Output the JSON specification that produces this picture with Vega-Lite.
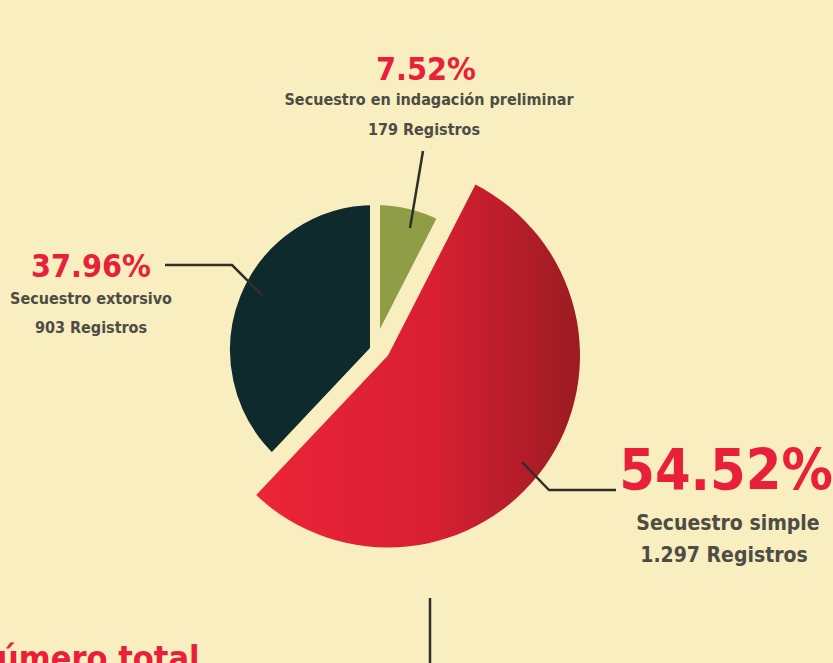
{
  "$schema": "https://vega.github.io/schema/vega-lite/v6.json",
  "width": 833,
  "height": 663,
  "padding": 0,
  "autosize": {"type": "none"},
  "background": "#f8eebf",
  "config": {"view": {"stroke": null}},
  "datasets": {
    "slices": [
      {"tipo": "Secuestro en indagación preliminar", "registros": 179, "orden": 1},
      {"tipo": "Secuestro simple", "registros": 1297, "orden": 2},
      {"tipo": "Secuestro extorsivo", "registros": 903, "orden": 3}
    ],
    "labels": [
      {"texto": "7.52%", "x": 426, "y": 80, "clase": "pct"},
      {"texto": "37.96%", "x": 91, "y": 277, "clase": "pct"},
      {"texto": "54.52%", "x": 726, "y": 490, "clase": "pctGrande"},
      {"texto": "Secuestro en indagación preliminar", "x": 429, "y": 105, "clase": "desc"},
      {"texto": "179 Registros", "x": 424, "y": 135, "clase": "desc"},
      {"texto": "Secuestro extorsivo", "x": 91, "y": 304, "clase": "desc"},
      {"texto": "903 Registros", "x": 91, "y": 333, "clase": "desc"},
      {"texto": "Secuestro simple", "x": 728, "y": 530, "clase": "descGrande"},
      {"texto": "1.297 Registros", "x": 724, "y": 562, "clase": "descGrande"},
      {"texto": "úmero total", "x": -3, "y": 670, "clase": "titulo"}
    ],
    "lines": [
      {"id": "a", "seq": 1, "x": 423, "y": 151},
      {"id": "a", "seq": 2, "x": 410, "y": 228},
      {"id": "b", "seq": 1, "x": 165, "y": 265},
      {"id": "b", "seq": 2, "x": 232, "y": 265},
      {"id": "b", "seq": 3, "x": 263, "y": 296},
      {"id": "c", "seq": 1, "x": 522, "y": 462},
      {"id": "c", "seq": 2, "x": 549, "y": 490},
      {"id": "c", "seq": 3, "x": 616, "y": 490},
      {"id": "d", "seq": 1, "x": 430, "y": 598},
      {"id": "d", "seq": 2, "x": 430, "y": 670}
    ]
  },
  "layer": [
    {
      "data": {"name": "slices"},
      "mark": {"type": "arc", "outerRadius": 150, "stroke": "#f8eebf", "strokeWidth": 10, "xOffset": -41.5, "yOffset": 18.5},
      "encoding": {
        "theta": {"field": "registros", "type": "quantitative", "stack": true},
        "order": {"field": "orden", "type": "quantitative"},
        "color": {
          "field": "tipo", "type": "nominal", "legend": null,
          "scale": {"domain": ["Secuestro en indagación preliminar", "Secuestro simple", "Secuestro extorsivo"], "range": ["#8e9d46", "transparent", "#0e2a2d"]}
        }
      }
    },
    {
      "data": {"name": "slices"},
      "mark": {
        "type": "arc", "outerRadius": 192, "xOffset": -28.5, "yOffset": 24,
        "fill": {"gradient": "linear", "x1": 0, "y1": 0.5, "x2": 1, "y2": 0.5,
          "stops": [{"offset": 0, "color": "#ec2439"}, {"offset": 0.55, "color": "#d81f33"}, {"offset": 1, "color": "#9b1c22"}]}
      },
      "encoding": {
        "theta": {"field": "registros", "type": "quantitative", "stack": true},
        "order": {"field": "orden", "type": "quantitative"},
        "opacity": {"condition": {"test": "datum.tipo === 'Secuestro simple'", "value": 1}, "value": 0}
      }
    },
    {
      "data": {"name": "lines"},
      "mark": {"type": "line", "color": "#302f2a", "strokeWidth": 2.5, "clip": true},
      "encoding": {
        "x": {"field": "x", "type": "quantitative", "axis": null, "scale": {"domain": [0, 833], "nice": false, "zero": false}},
        "y": {"field": "y", "type": "quantitative", "axis": null, "scale": {"domain": [0, 663], "nice": false, "zero": false, "reverse": true}},
        "detail": {"field": "id"},
        "order": {"field": "seq", "type": "quantitative"}
      }
    },
    {
      "data": {"name": "labels"},
      "transform": [{"filter": "datum.clase === 'pct'"}],
      "mark": {"type": "text", "font": "DejaVu Sans Condensed", "fontWeight": "bold", "fontSize": 32, "color": "#e8203a", "align": "center", "baseline": "alphabetic"},
      "encoding": {
        "x": {"field": "x", "type": "quantitative", "axis": null, "scale": {"domain": [0, 833], "nice": false, "zero": false}},
        "y": {"field": "y", "type": "quantitative", "axis": null, "scale": {"domain": [0, 663], "nice": false, "zero": false, "reverse": true}},
        "text": {"field": "texto"}
      }
    },
    {
      "data": {"name": "labels"},
      "transform": [{"filter": "datum.clase === 'pctGrande'"}],
      "mark": {"type": "text", "font": "DejaVu Sans Condensed", "fontWeight": "bold", "fontSize": 57, "color": "#e8203a", "align": "center", "baseline": "alphabetic"},
      "encoding": {
        "x": {"field": "x", "type": "quantitative", "axis": null, "scale": {"domain": [0, 833], "nice": false, "zero": false}},
        "y": {"field": "y", "type": "quantitative", "axis": null, "scale": {"domain": [0, 663], "nice": false, "zero": false, "reverse": true}},
        "text": {"field": "texto"}
      }
    },
    {
      "data": {"name": "labels"},
      "transform": [{"filter": "datum.clase === 'desc'"}],
      "mark": {"type": "text", "font": "DejaVu Sans Condensed", "fontWeight": "bold", "fontSize": 16, "color": "#4d4c45", "align": "center", "baseline": "alphabetic"},
      "encoding": {
        "x": {"field": "x", "type": "quantitative", "axis": null, "scale": {"domain": [0, 833], "nice": false, "zero": false}},
        "y": {"field": "y", "type": "quantitative", "axis": null, "scale": {"domain": [0, 663], "nice": false, "zero": false, "reverse": true}},
        "text": {"field": "texto"}
      }
    },
    {
      "data": {"name": "labels"},
      "transform": [{"filter": "datum.clase === 'descGrande'"}],
      "mark": {"type": "text", "font": "DejaVu Sans Condensed", "fontWeight": "bold", "fontSize": 21, "color": "#4d4c45", "align": "center", "baseline": "alphabetic"},
      "encoding": {
        "x": {"field": "x", "type": "quantitative", "axis": null, "scale": {"domain": [0, 833], "nice": false, "zero": false}},
        "y": {"field": "y", "type": "quantitative", "axis": null, "scale": {"domain": [0, 663], "nice": false, "zero": false, "reverse": true}},
        "text": {"field": "texto"}
      }
    },
    {
      "data": {"name": "labels"},
      "transform": [{"filter": "datum.clase === 'titulo'"}],
      "mark": {"type": "text", "font": "DejaVu Sans Condensed", "fontWeight": "bold", "fontSize": 34, "color": "#e8203a", "align": "left", "baseline": "alphabetic", "clip": true},
      "encoding": {
        "x": {"field": "x", "type": "quantitative", "axis": null, "scale": {"domain": [0, 833], "nice": false, "zero": false}},
        "y": {"field": "y", "type": "quantitative", "axis": null, "scale": {"domain": [0, 663], "nice": false, "zero": false, "reverse": true}},
        "text": {"field": "texto"}
      }
    }
  ]
}
